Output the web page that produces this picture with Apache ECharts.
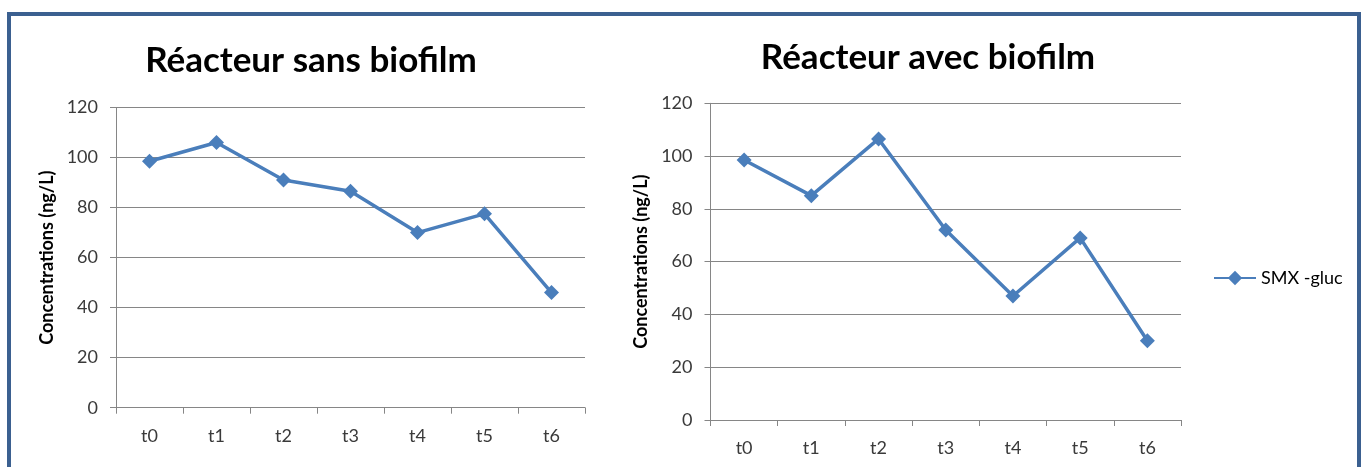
<!DOCTYPE html>
<html>
<head>
<meta charset="utf-8">
<script src="https://cdn.jsdelivr.net/npm/echarts@6/dist/echarts.min.js"></script>
<style>
html,body{margin:0;padding:0;background:#fff;}
#c{width:1361px;height:467px;}
</style>
</head>
<body>
<div id="c"></div>
<script>
const categories = ['t0','t1','t2','t3','t4','t5','t6'];
const sansBiofilm = [98.5, 106, 91, 86.5, 70, 77.5, 46];
const avecBiofilm = [98.5, 85, 106.5, 72, 47, 69, 30];
const seriesName = 'SMX -gluc';
const titles = ['Réacteur sans biofilm', 'Réacteur avec biofilm'];
const yName = 'Concentrations (ng/L)';

const FONT = 'Lato';
const lineColor = '#4A7EBB';
const gridColor = '#868686';
const labelColor = '#3A3A3A';

function xAx(i){
  return {
    type:'category', gridIndex:i, data:categories, boundaryGap:true,
    axisLine:{lineStyle:{color:gridColor,width:1}},
    axisTick:{show:true,length:6,alignWithLabel:false,lineStyle:{color:gridColor}},
    axisLabel:{color:labelColor,fontFamily:FONT,fontSize:18,margin:19},
    splitLine:{show:false}
  };
}
function yAx(i){
  return {
    type:'value', gridIndex:i, min:0, max:120, interval:20,
    name:yName, nameLocation:'middle', nameGap:60, nameRotate:90,
    nameTextStyle:{color:'#000',fontFamily:FONT,fontSize:18,fontWeight:'bold'},
    axisLine:{show:true,lineStyle:{color:gridColor,width:1}},
    axisTick:{show:true,length:6,lineStyle:{color:gridColor}},
    axisLabel:{color:labelColor,fontFamily:FONT,fontSize:18,margin:18},
    splitLine:{show:true,lineStyle:{color:gridColor,width:1}}
  };
}
function ser(i,data){
  return {
    type:'line', name:seriesName, xAxisIndex:i, yAxisIndex:i, data:data,
    symbol:'diamond', symbolSize:15, showAllSymbol:true,
    lineStyle:{color:lineColor,width:3.5},
    itemStyle:{color:lineColor},
    animation:false
  };
}

const chart = echarts.init(document.getElementById('c'), null, {renderer:'canvas'});
chart.setOption({
  animation:false,
  backgroundColor:'#fff',
  title:[
    {text:titles[0],left:306,top:38,textAlign:'center',textStyle:{fontFamily:FONT,fontSize:35,fontWeight:'bold',color:'#000'}},
    {text:titles[1],left:923,top:35,textAlign:'center',textStyle:{fontFamily:FONT,fontSize:35,fontWeight:'bold',color:'#000'}}
  ],
  legend:{
    data:[seriesName], left:1208, top:264, orient:'vertical',
    itemWidth:42, itemHeight:18,
    textStyle:{fontFamily:FONT,fontSize:18,color:'#000'}
  },
  grid:[
    {left:116,right:776,top:107.5,bottom:59.3,containLabel:false},
    {left:710.5,right:180,top:103.3,bottom:47,containLabel:false}
  ],
  xAxis:[xAx(0),xAx(1)],
  yAxis:[yAx(0),yAx(1)],
  series:[ser(0,sansBiofilm),ser(1,avecBiofilm)],
  graphic:[
    {type:'rect',shape:{x:9,y:14,width:1350,height:470},style:{fill:null,stroke:'#3B6090',lineWidth:4},silent:true}
  ]
});
</script>
</body>
</html>
